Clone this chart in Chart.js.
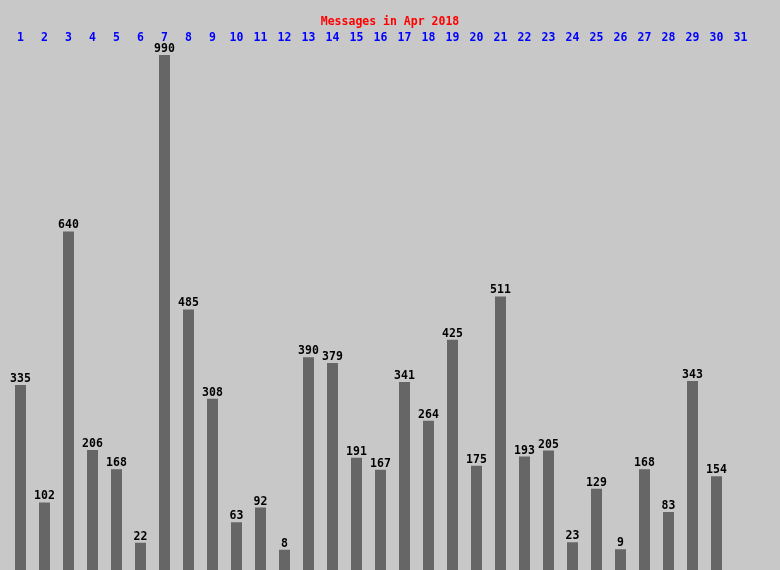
<!DOCTYPE html>
<html>
<head>
<meta charset="utf-8">
<script src="https://cdn.jsdelivr.net/npm/chart.js@4"></script>
<style>
html,body{margin:0;padding:0;background:#c8c8c8;}
#wrap{width:780px;height:570px;}
</style>
</head>
<body>
<div id="wrap"><canvas id="c" width="780" height="570"></canvas></div>
<script>
const titleText = "Messages in Apr 2018";
const days = ["1","2","3","4","5","6","7","8","9","10","11","12","13","14","15","16","17","18","19","20","21","22","23","24","25","26","27","28","29","30","31"];
const messages = [335,102,640,206,168,22,990,485,308,63,92,8,390,379,191,167,341,264,425,175,511,193,205,23,129,9,168,83,343,154,null];

const FONT = '"DejaVu Sans Mono", "Liberation Mono", monospace';

const bgPlugin = {
  id: 'bg',
  beforeDraw(chart) {
    const ctx = chart.ctx;
    ctx.save();
    ctx.fillStyle = '#c8c8c8';
    ctx.fillRect(0, 0, chart.width, chart.height);
    ctx.restore();
  }
};

const titlePlugin = {
  id: 'customTitle',
  afterDraw(chart) {
    const ctx = chart.ctx;
    ctx.save();
    ctx.font = 'bold 11.5px ' + FONT;
    ctx.fillStyle = '#ff0000';
    ctx.textAlign = 'center';
    ctx.textBaseline = 'middle';
    ctx.fillText(titleText, chart.width / 2, 22);
    ctx.restore();
  }
};

const valuePlugin = {
  id: 'values',
  afterDatasetsDraw(chart) {
    const ctx = chart.ctx;
    const meta = chart.getDatasetMeta(0);
    ctx.save();
    ctx.font = 'bold 11.5px ' + FONT;
    ctx.fillStyle = '#000000';
    ctx.textAlign = 'center';
    ctx.textBaseline = 'middle';
    meta.data.forEach((bar, i) => {
      const v = messages[i];
      if (v === null || v === undefined) return;
      ctx.fillText(String(v), bar.x, bar.y - 6);
    });
    ctx.restore();
  }
};

new Chart(document.getElementById('c'), {
  type: 'bar',
  data: {
    labels: days,
    datasets: [{
      data: messages,
      backgroundColor: '#666666',
      borderWidth: 0,
      base: -32,
      barPercentage: 11 / 24,
      categoryPercentage: 1
    }]
  },
  options: {
    responsive: false,
    animation: false,
    devicePixelRatio: 1,
    layout: { padding: { left: 8.5, right: 27.5, top: 0, bottom: 0 } },
    plugins: {
      legend: { display: false },
      title: { display: false },
      tooltip: { enabled: false }
    },
    scales: {
      x: {
        position: 'top',
        grid: { display: false },
        border: { display: false },
        ticks: {
          color: '#0000ff',
          font: { family: FONT, size: 11.5, weight: 'bold' },
          padding: 1,
          maxRotation: 0,
          autoSkip: false
        },
        afterFit(axis) { axis.height = 54; }
      },
      y: {
        display: false,
        min: -32,
        max: 992
      }
    }
  },
  plugins: [bgPlugin, titlePlugin, valuePlugin]
});
</script>
</body>
</html>
